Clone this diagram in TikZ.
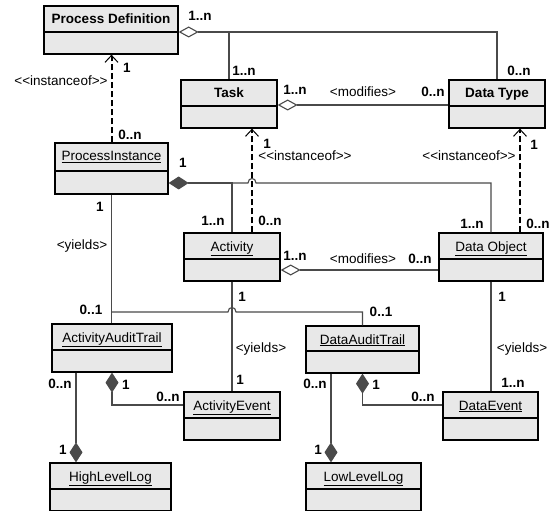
\documentclass[tikz,border=0pt]{standalone}
\usepackage{fontspec}
\setmainfont{Liberation Sans}
\usetikzlibrary{arrows.meta,fit,calc}
\definecolor{boxgray}{HTML}{E8E8E8}
\definecolor{linegray}{HTML}{4A4A4A}
\tikzset{
  clsbox/.style={draw=black, line width=1.3bp, fill=boxgray, inner sep=0pt},
  clsname/.style={font=\fontsize{13.5bp}{15bp}\selectfont, inner sep=0pt, anchor=base},
  lbl/.style={font=\fontsize{13.5bp}{15bp}\selectfont, inner sep=0pt, text=black},
  mult/.style={lbl, font=\fontsize{13.5bp}{15bp}\selectfont\bfseries},
  conn/.style={draw=linegray, line width=1.1bp},
  dep/.style={draw=black, line width=2bp, dash pattern=on 6bp off 3bp,
    -{Straight Barb[length=7bp,width=13bp,line width=1bp]}},
  agg/.style={conn, {Diamond[open,length=20bp,width=11bp,line width=1.1bp]}-},
  comp/.style={conn, {Diamond[length=20bp,width=13bp]}-},
  compend/.style={conn, -{Diamond[length=20bp,width=13bp]}},
}
\newcommand\umlclass[7]{%
  \node[clsbox, fit={(#2,#3) (#4,#5)}] (#1) {};
  \draw[line width=1.3bp] (#2,#6) -- (#4,#6);
  \node[clsname] (#1-n) at ({(#2+#4)/2},{#3+18}) {#7};
}
\newcommand\instof{<\kern0pt<instanceof>\kern0pt>}
\begin{document}
\begin{tikzpicture}[x=1bp,y=-1bp]
\useasboundingbox[fill=white] (0,0) rectangle (550,512);
% classes
\umlclass{pd}{44}{6}{178}{54}{32}{\bfseries Process Definition}
\umlclass{task}{181}{80}{277}{128}{106}{\bfseries Task}
\umlclass{dt}{449}{80}{545}{128}{106}{\bfseries Data Type}
\umlclass{pi}{55}{143}{168}{194}{171}{\underline{ProcessInstance}}
\umlclass{act}{184}{233}{280}{281}{259}{\underline{Activity}}
\umlclass{do}{439}{233}{543}{281}{259}{\underline{Data Object}}
\umlclass{aat}{52}{324}{172}{372}{350}{\underline{ActivityAuditTrail}}
\umlclass{dat}{306}{326}{419}{373}{351}{\underline{DataAuditTrail}}
\umlclass{ae}{184}{392}{280}{440}{418}{\underline{ActivityEvent}}
\umlclass{de}{443}{392}{538}{440}{418}{\underline{DataEvent}}
\umlclass{hll}{50}{463}{171}{510.5}{489}{\underline{HighLevelLog}}
\umlclass{lll}{306}{463}{421}{510.5}{489}{\underline{LowLevelLog}}
% dependencies
\draw[dep] (pi.north) -- (pi.north |- pd.south);
\draw[dep] (act.north -| 252,0) -- (task.south -| 252,0);
\draw[dep] (do.north -| 520,0) -- (dt.south -| 520,0);
% process definition aggregation
\coordinate (pdj) at (task.north |- 0,32);
\draw[agg] (pd.east |- 0,32) -| (dt.north);
\draw[conn] (pdj) -- (task.north);
% task - data type
\draw[agg] (task.east |- 0,105) -- (dt.west |- 0,105);
% process instance composition
\coordinate (pij1) at (act.north |- 0,183);
\draw[comp] (pi.east |- 0,183) -| (act.north);
\draw[conn] (pij1) -- (248,183) .. controls (248,177) and (256,177) .. (256,183) -| (do.north);
% activity - data object
\draw[agg] (act.east |- 0,270) -- (do.west |- 0,270);
% yields
\coordinate (pij2) at (pi.south |- 0,312);
\draw[conn] (pi.south) -- (pi.south |- aat.north);
\draw[conn] (pij2) -- (228,312) .. controls (228,306) and (236,306) .. (236,312) -| (dat.north);
\draw[conn] (act.south) -- (act.south |- ae.north);
\draw[conn] (do.south) -- (do.south |- de.north);
% audit trail compositions
\draw[compend] (aat.south -| 76,0) -- (hll.north -| 76,0);
\draw[comp] (aat.south) |- (ae.west |- 0,405);
\draw[compend] (dat.south -| 331,0) -- (lll.north -| 331,0);
\draw[comp] (dat.south) |- (de.west |- 0,405);
% labels
\node[mult] (l1) at (200,16) {1..n};
\node[mult] (l2) at (244,71) {1..n};
\node[mult] (l3) at (519,71) {0..n};
\node[mult] (l4) at (127,68) {1};
\node[lbl] (l5) at (61,81) {\instof};
\node[mult] (l6) at (130,135) {0..n};
\node[mult] (l7) at (295,90) {1..n};
\node[lbl] (l8) at (363,92) {<modifies>};
\node[mult] (l9) at (433,92) {0..n};
\node[mult] (l10) at (267,144) {1};
\node[lbl] (l11) at (305,156) {\instof};
\node[mult] (l12) at (534,145) {1};
\node[lbl] (l13) at (469,156) {\instof};
\node[mult] (l14) at (183,163) {1};
\node[mult] (l15) at (213,221) {1..n};
\node[mult] (l16) at (270,221) {0..n};
\node[mult] (l17) at (472,224) {1..n};
\node[mult] (l18) at (538,224) {0..n};
\node[mult] (l19) at (295,256) {1..n};
\node[lbl] (l20) at (363,259) {<modifies>};
\node[mult] (l21) at (420,259) {0..n};
\node[mult] (l22) at (100,207) {1};
\node[lbl] (l23) at (82,246) {<yields>};
\node[mult] (l24) at (91,310) {0..1};
\node[mult] (l25) at (242,297) {1};
\node[mult] (l26) at (381,312) {0..1};
\node[mult] (l27) at (502,297) {1};
\node[lbl] (l28) at (261,349) {<yields>};
\node[mult] (l29) at (240,380) {1};
\node[lbl] (l30) at (522,349) {<yields>};
\node[mult] (l31) at (513,383) {1..n};
\node[mult] (l32) at (60,384) {0..n};
\node[mult] (l33) at (126,385) {1};
\node[mult] (l34) at (168,397) {0..n};
\node[mult] (l35) at (63,450) {1};
\node[mult] (l36) at (315,384) {0..n};
\node[mult] (l37) at (376,385) {1};
\node[mult] (l38) at (423,397) {0..n};
\node[mult] (l39) at (318,450) {1};
\end{tikzpicture}
\end{document}
